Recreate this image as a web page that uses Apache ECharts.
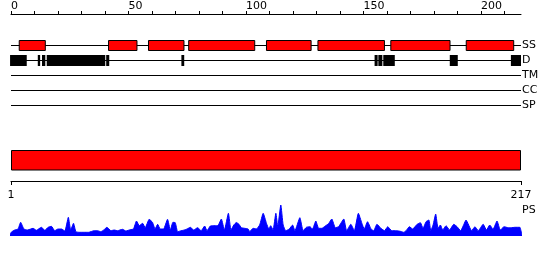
<!DOCTYPE html>
<html><head><meta charset="utf-8">
<script src="https://cdn.jsdelivr.net/npm/echarts@6/dist/echarts.min.js"></script>
<style>html,body{margin:0;padding:0;background:#fff}#c{width:550px;height:260px}</style>
</head><body><div id="c"></div>
<script>
const tracks = ['SS', 'D', 'TM', 'CC', 'SP'];
const seqLength = 217;
const ssStart = [3.5, 41.5, 58.5, 75.6, 108.7, 130.6, 161.6, 193.7];
const ssEnd   = [14.6, 53.6, 73.6, 103.7, 127.7, 158.9, 186.8, 213.9];
const dStart = [-0.4, 11.4, 13.2, 15.2, 40.5, 72.5, 154.7, 156.3, 158.4, 186.7, 212.7];
const dEnd   = [6.7, 12.4, 14.6, 40.1, 41.8, 73.7, 156.0, 158.0, 163.3, 190.1, 217.0];
const topTicks = [0, 10, 20, 30, 40, 50, 60, 70, 80, 90, 100, 110, 120, 130, 140, 150, 160, 170, 180, 190, 200, 210];
const topLabels = [0, 50, 100, 150, 200];
const domainBounds = [1, 217];
const psLabelAt = [26];
const psPos = [-0.5, 0.2, 1.6, 3, 4.1, 5.5, 7, 8.4, 9.4, 10.8, 12.9, 14.4, 15.8, 17.2, 18.6, 20, 21.5, 22.9, 24.4, 25.4, 26.6, 27.6, 29, 31, 33,
  35.4, 36.8, 38.2, 39.6, 40.8, 42.5, 43.9, 45.3, 47.4, 48.9, 50.7, 52.1, 53.4, 54.6, 56, 57.1, 58.8, 60.2, 61.3, 62.4,
  63.5, 64.9, 66.6, 67.8, 68.9, 69.9, 70.9, 72, 73.7, 74.9, 76.3, 77.7, 79.4, 80.9, 82.4, 83.4, 84.8, 86, 87.8, 88.4, 89.5, 90.8, 92.5, 93.6, 94.8, 95.9,
  97, 98, 99.4, 100.9, 101.6, 103, 104.4, 105.8, 107.3, 108.7, 109.7, 110.5, 111.5, 112.7, 113.5, 114.8, 115.8, 116.9, 118.4, 119.8, 120.8, 122.9, 124.3, 125.7, 127.2,
  128.3, 129.7, 130.9, 132.3, 133.7, 135.1, 136.5, 138, 139.4, 141.6, 142.8, 144.6, 146.1, 147.8, 149.3, 150.3, 151.7, 153.2, 154.3, 155.7, 157.4, 158.9, 160.3,
  162, 164, 166, 167.1, 168.1, 169.5, 170.9, 172.8, 174.2, 175.3, 176.6, 177.8, 178.6, 179.6, 180.7, 181.7, 182.7, 183.7, 185.1, 186.6, 188.4, 189.8, 191.3, 192.7,
  193.6, 196, 197.4, 198.8, 200.9, 202.3, 203.7, 205.1, 206.8, 208.2, 209.8, 211.5, 212.9, 214.4, 216.5, 217.4, 218, 222.4];
const psVal = [1, 4, 6, 7, 13.7, 7, 6, 7, 7.7, 5.7, 8.7, 5.7, 8.7, 9.7, 5.3, 7, 7, 5, 18.7, 6, 12.7, 4.3, 3.7, 3.7, 3.7,
  5.3, 5.3, 4.3, 6.3, 8.7, 5.3, 6, 5.3, 6.7, 5, 6.3, 7, 15, 10.3, 12.7, 8.3, 16.7, 13.7, 7, 11.7,
  7, 7, 16.7, 6, 13.7, 13.3, 4.3, 5, 6, 7, 8.7, 6, 8.3, 5.3, 10, 5.3, 10, 10.3, 10.3, 11.7, 17, 6, 22.7, 6, 11, 13.5,
  11.7, 8.3, 7.7, 7, 4.3, 7.7, 7, 11, 22.7, 12.7, 7, 10.3, 6, 22.7, 9.3, 31, 11, 5.3, 7, 11, 5.3, 18.3, 5.3, 8.7, 9.3,
  7, 15, 7.7, 7.7, 10, 12.3, 17, 8.3, 9.3, 17, 5.3, 11.7, 5.3, 22.7, 12.7, 7, 14.3, 7, 5.3, 11.7, 7.7, 5.3, 9.3,
  5.3, 5.3, 4.5, 3.7, 5.3, 9.3, 7, 11.7, 13.3, 7.7, 14.3, 16, 5.3, 11, 22, 7.7, 11, 6, 10.3, 6, 11.7, 9.3, 5.3, 11.7,
  16, 5.3, 9.3, 5.3, 11.7, 6, 11, 6.7, 15, 6, 9.3, 8.3, 8.3, 8.7, 8.7, 1, 0, 0];

const FONT = 'DejaVu Sans';
const txt = { color: '#000', fontSize: 11, fontFamily: FONT };

function boxRenderer(h, fill, stroke) {
  return function (params, api) {
    const a = api.coord([api.value(0), api.value(2)]);
    const b = api.coord([api.value(1), api.value(2)]);
    return {
      type: 'rect',
      shape: { x: a[0], y: a[1] - h / 2, width: b[0] - a[0], height: h },
      style: { fill: fill, stroke: stroke || null, lineWidth: stroke ? 1 : 0 }
    };
  };
}
function lineRenderer(params, api) {
  const a = api.coord([api.value(0), api.value(2)]);
  const b = api.coord([api.value(1), api.value(2)]);
  return { type: 'line', shape: { x1: a[0], y1: a[1], x2: b[0], y2: b[1] }, style: { stroke: '#000', lineWidth: 1 } };
}

const trackLines = tracks.map(t => [0, seqLength, t]);
const ssData = ssStart.map((s, i) => [s, ssEnd[i], 'SS']);
const dData = dStart.map((s, i) => [s, dEnd[i], 'D']);

const chart = echarts.init(document.getElementById('c'), null, { renderer: 'canvas' });
chart.setOption({
  animation: false,
  backgroundColor: '#fff',
  grid: [
    { left: 11, top: 38, width: 510, height: 75 },
    { left: 11, top: 150, width: 510, height: 31 },
    { left: 11, top: 200, width: 510, height: 36 }
  ],
  xAxis: [
    {
      gridIndex: 0, type: 'value', min: 0, max: seqLength, position: 'top', offset: 24,
      axisLine: { show: true, lineStyle: { color: '#000', width: 1 } },
      axisTick: { show: true, length: 3, customValues: topTicks, lineStyle: { color: '#000' } },
      axisLabel: { show: true, customValues: topLabels, align: 'left', margin: 2, ...txt },
      splitLine: { show: false }
    },
    {
      gridIndex: 1, type: 'value', min: domainBounds[0], max: domainBounds[1], position: 'bottom',
      axisLine: { show: true, lineStyle: { color: '#000', width: 1 } },
      axisTick: { show: true, length: 4, customValues: domainBounds, lineStyle: { color: '#000' } },
      axisLabel: { show: true, customValues: domainBounds, margin: 9, ...txt },
      splitLine: { show: false }
    },
    { gridIndex: 2, type: 'value', min: 0, max: seqLength, show: false }
  ],
  yAxis: [
    {
      gridIndex: 0, type: 'category', data: tracks, inverse: true, position: 'right',
      axisLine: { show: false }, axisTick: { show: false }, splitLine: { show: false },
      axisLabel: { margin: 1, ...txt }
    },
    { gridIndex: 1, type: 'value', min: 0, max: 31, show: false },
    {
      gridIndex: 2, type: 'value', min: 0, max: 36, position: 'right',
      axisLine: { show: false }, axisTick: { show: false }, splitLine: { show: false },
      axisLabel: { customValues: psLabelAt, formatter: () => 'PS', margin: 1, ...txt }
    }
  ],
  series: [
    { type: 'custom', xAxisIndex: 0, yAxisIndex: 0, renderItem: lineRenderer, data: trackLines,
      encode: { x: [0, 1], y: 2 }, silent: true, z: 1 },
    { type: 'custom', xAxisIndex: 0, yAxisIndex: 0, renderItem: boxRenderer(10, '#ff0000', '#000'), data: ssData,
      encode: { x: [0, 1], y: 2 }, clip: false, z: 2 },
    { type: 'custom', xAxisIndex: 0, yAxisIndex: 0, renderItem: boxRenderer(11, '#000', null), data: dData,
      encode: { x: [0, 1], y: 2 }, clip: false, z: 2 },
    { type: 'custom', xAxisIndex: 1, yAxisIndex: 1,
      renderItem: function (params, api) {
        const a = api.coord([api.value(0), 31]);
        const b = api.coord([api.value(1), 31]);
        return { type: 'rect', shape: { x: a[0] + 0.5, y: a[1] + 0.5, width: b[0] - a[0] - 1, height: 19.5 },
          style: { fill: '#ff0000', stroke: '#000', lineWidth: 1 } };
      },
      data: [[domainBounds[0], domainBounds[1]]], encode: { x: [0, 1] }, clip: false },
    { type: 'line', xAxisIndex: 2, yAxisIndex: 2, data: psPos.map((p, i) => [p, psVal[i]]),
      symbol: 'none', clip: false, smooth: 0.15,
      lineStyle: { color: '#0000ff', width: 1 }, areaStyle: { color: '#0000ff', opacity: 1 } }
  ]
});
</script>
</body></html>
